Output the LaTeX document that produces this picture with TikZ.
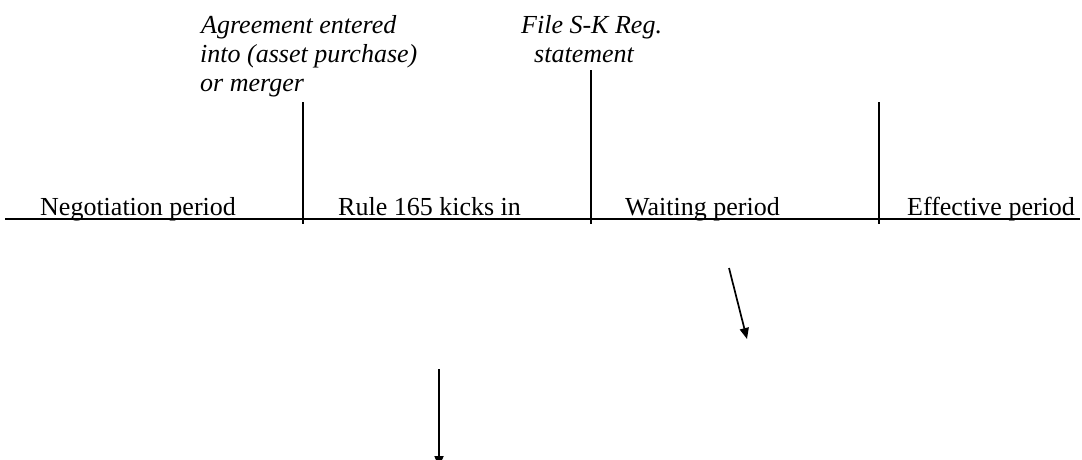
\documentclass[tikz,border=0pt]{standalone}
\usepackage{fontspec}
\setmainfont{Liberation Serif}
\usetikzlibrary{arrows.meta}
\begin{document}
\begin{tikzpicture}[x=1pt,y=-1pt,
  period/.style={anchor=base west,inner sep=0pt,font=\fontsize{26}{30}\selectfont},
  event/.style={anchor=base west,inner sep=0pt,font=\fontsize{26}{30}\selectfont\itshape},
  tick/.style={line width=1.6pt},
  axis/.style={line width=1.7pt},
  pointer/.style={line width=1.7pt,-{Triangle[length=11pt,width=9pt]}}]
\useasboundingbox (0,0) rectangle (1082,459);
% timeline
\coordinate (axL) at (5,219);
\coordinate (axR) at (1080,219);
\draw[axis] (axL) -- (axR);
% ticks
\coordinate (t1top) at (303,102); \coordinate (t1bot) at (303,224);
\coordinate (t2top) at (591,70);  \coordinate (t2bot) at (591,224);
\coordinate (t3top) at (879,102); \coordinate (t3bot) at (879,224);
\draw[tick] (t1top) -- (t1bot);
\draw[tick] (t2top) -- (t2bot);
\draw[tick] (t3top) -- (t3bot);
% period labels
\node[period] (neg) at (40,215) {Negotiation period};
\node[period] (rule) at (338,215) {Rule 165 kicks in};
\node[period] (wait) at (625,215) {Waiting period};
\node[period] (eff) at (907,215) {Effective period};
% event labels
\node[event] (ag1) at (201,33) {Agreement entered};
\node[event] (ag2) at (200,62) {into (asset purchase)};
\node[event] (ag3) at (200,91) {or merger};
\node[event] (fi1) at (521,33) {File S-K Reg.};
\node[event] (fi2) at (534,62) {statement};
% arrows
\coordinate (a1s) at (729,268);
\coordinate (a1e) at (747,339);
\draw[pointer] (a1s) -- (a1e);
\coordinate (a2s) at (439,369);
\coordinate (a2e) at (439,467);
\draw[pointer] (a2s) -- (a2e);
\end{tikzpicture}
\end{document}
